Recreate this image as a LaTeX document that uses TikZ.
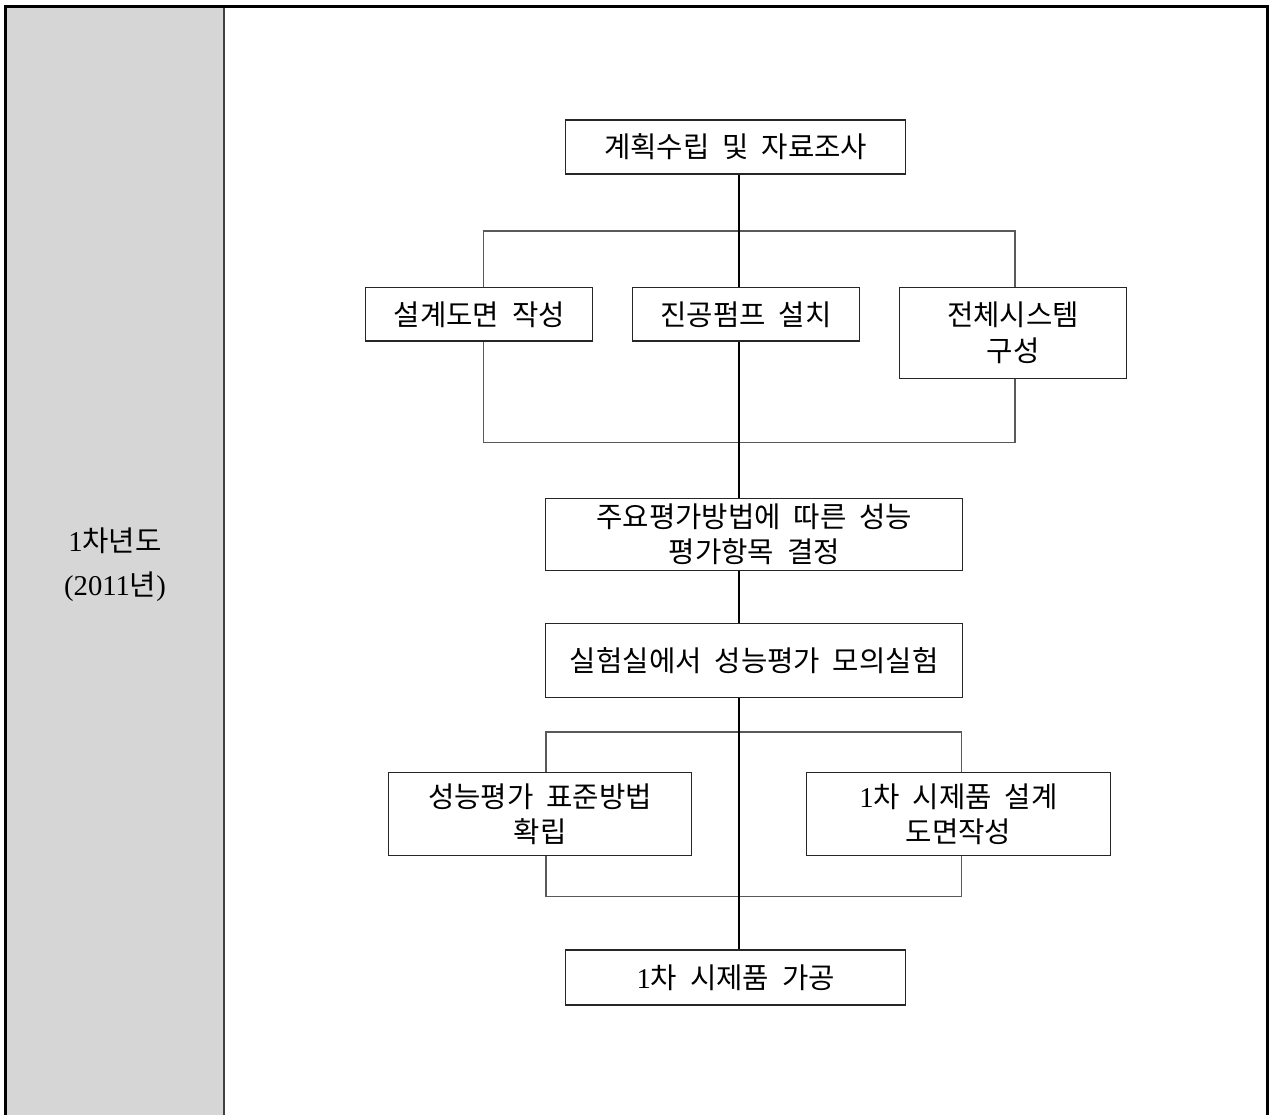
\documentclass[tikz,border=0pt]{standalone}
\usepackage{fontspec}
\setmainfont{Noto Sans CJK KR}[WordSpace=2.0]
\newfontfamily\latserif{Liberation Serif}
\usetikzlibrary{backgrounds}
\newcommand\pxu{0.75pt}
\tikzset{
  panel/.style={fill=black!16},
  divider/.style={draw=black!75, line width=1.1pt},
  frame/.style={draw=black, line width=2.25pt},
  box/.style={draw=black!85, line width=0.9pt, fill=white, inner sep=0pt, align=center,
    font=\fontsize{21.5pt}{26.3pt}\selectfont},
  bracket/.style={draw=black!65, line width=0.9pt},
  trunk/.style={draw=black, line width=1.3pt},
  label/.style={align=center, font=\fontsize{21.5pt}{33pt}\selectfont}
}
\begin{document}
\begin{tikzpicture}[x=0.75pt,y=-0.75pt]
\useasboundingbox (0,0) rectangle (1269,1115);
\fill[panel] (6,7) rectangle (224,1115);
\draw[divider] (224,7) -- (224,1115);
\draw[frame] (5.5,1115) -- (5.5,6.5) -- (1267,6.5) -- (1267,1115);

\node[label] (year) at (115,565) {{\latserif 1}차년도\\{\latserif (2011}년{\latserif )}};

\node[box, minimum width=340*\pxu, minimum height=54*\pxu] (plan) at (735.7,147) {계획수립 및 자료조사};
\node[box, minimum width=227*\pxu, minimum height=53.3*\pxu] (design) at (479.2,314.4) {설계도면 작성};
\node[box, minimum width=226.6*\pxu, minimum height=53.3*\pxu] (pump) at (746,314.4) {진공펌프 설치};
\node[box, minimum width=227.4*\pxu, minimum height=91*\pxu] (sys) at (1013,332.8) {전체시스템\\구성};
\node[box, minimum width=417*\pxu, minimum height=72.4*\pxu] (eval) at (754.2,534.5) {주요평가방법에 따른 성능\\평가항목 결정};
\node[box, minimum width=417*\pxu, minimum height=74*\pxu] (lab) at (754.2,660.3) {실험실에서 성능평가 모의실험};
\node[box, minimum width=303.4*\pxu, minimum height=83.4*\pxu] (std) at (540,814) {성능평가 표준방법\\확립};
\node[box, minimum width=303.4*\pxu, minimum height=83.4*\pxu] (proto) at (958.5,814) {{\latserif 1}차 시제품 설계\\도면작성};
\node[box, minimum width=340*\pxu, minimum height=55*\pxu] (make) at (735.7,977.5) {{\latserif 1}차 시제품 가공};

\coordinate (tx) at (739,0);
\coordinate (b1tl) at (483.3,231);
\coordinate (b1br) at (1015,442.7);
\coordinate (b2tl) at (546,732);
\coordinate (b2br) at (961.7,896.7);

\begin{pgfonlayer}{background}
\draw[bracket] (b1tl) rectangle (b1br);
\draw[bracket] (b2tl) rectangle (b2br);
\draw[trunk] (plan.south -| tx) -- (eval.north -| tx);
\draw[trunk] (eval.south -| tx) -- (lab.north -| tx);
\draw[trunk] (lab.south -| tx) -- (make.north -| tx);
\end{pgfonlayer}
\end{tikzpicture}
\end{document}
